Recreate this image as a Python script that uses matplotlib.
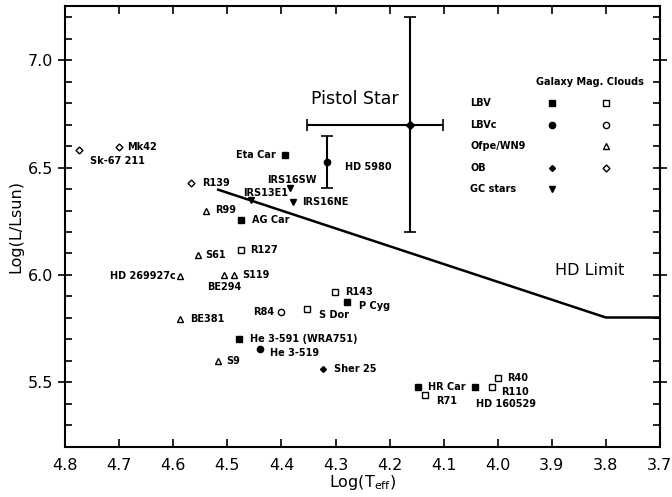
import numpy as np
import matplotlib
matplotlib.use('Agg')
import matplotlib.pyplot as plt
from matplotlib.ticker import MultipleLocator

plt.rcParams['font.family'] = ['DejaVu Sans']

# LBV, galaxy (filled square)
lbv_gal_names = ['Eta Car', 'AG Car', 'He 3-591 (WRA751)', 'P Cyg', 'HR Car', 'HD 160529']
lbv_gal_t = [4.393, 4.475, 4.479, 4.278, 4.147, 4.042]
lbv_gal_l = [6.557, 6.257, 5.70, 5.875, 5.478, 5.478]

# LBV, Magellanic Clouds (open square)
lbv_mc_names = ['R127', 'R143', 'S Dor', 'R71', 'R110', 'R40']
lbv_mc_t = [4.475, 4.301, 4.352, 4.135, 4.011, 4.000]
lbv_mc_l = [6.114, 5.919, 5.840, 5.440, 5.478, 5.520]

# LBVc, galaxy (filled circle)
lbvc_gal_names = ['He 3-519']
lbvc_gal_t = [4.44]
lbvc_gal_l = [5.657]

# LBVc, Magellanic Clouds (open circle)
lbvc_mc_names = ['R84']
lbvc_mc_t = [4.40]
lbvc_mc_l = [5.828]

# Ofpe/WN9, Magellanic Clouds (open triangle)
ofpe_names = ['R99', 'S61', 'HD 269927c', 'BE294', 'S119', 'BE381', 'S9']
ofpe_t = [4.539, 4.554, 4.587, 4.506, 4.487, 4.587, 4.518]
ofpe_l = [6.296, 6.093, 5.997, 6.000, 6.000, 5.796, 5.600]

# OB, galaxy (filled diamond)
ob_gal_names = ['Sher 25']
ob_gal_t = [4.323]
ob_gal_l = [5.56]

# OB, Magellanic Clouds (open diamond)
ob_mc_names = ['Sk-67 211', 'Mk42', 'R139']
ob_mc_t = [4.774, 4.700, 4.567]
ob_mc_l = [6.58, 6.595, 6.43]

# Galactic Center stars (filled down triangle)
gc_names = ['IRS16SW', 'IRS13E1', 'IRS16NE']
gc_t = [4.384, 4.457, 4.378]
gc_l = [6.405, 6.350, 6.340]

# HD 5980 with error bar
hd5980_t = 4.316
hd5980_l = 6.527
hd5980_lerr = 0.12

# Pistol Star with error bars
pistol_t = 4.162
pistol_l = 6.70
pistol_terr = [[0.06], [0.19]]
pistol_lerr = 0.50

# Humphreys-Davidson limit
hd_limit_t = [4.517, 3.80, 3.70]
hd_limit_l = [6.397, 5.802, 5.802]

# legend rows
legend_rows = ['LBV', 'LBVc', 'Ofpe/WN9', 'OB', 'GC stars']
legend_gal = [('s', 'k'), ('o', 'k'), None, ('D', 'k'), ('v', 'k')]
legend_mc = [('s', 'none'), ('o', 'none'), ('^', 'none'), ('D', 'none'), None]

# label offsets in points: (dx, dy, ha)
label_offsets = {
    'Sk-67 211': (8, -8, 'left'), 'Mk42': (6, 0, 'left'), 'R139': (8, 0, 'left'),
    'R99': (6, 1, 'left'), 'AG Car': (8, 0, 'left'), 'Eta Car': (-7, 0, 'right'),
    'IRS16SW': (1, 6, 'center'), 'IRS13E1': (11, 5, 'center'), 'IRS16NE': (6, 0, 'left'),
    'R127': (7, 0, 'left'), 'S61': (5, 0, 'left'), 'HD 269927c': (-3, 0, 'right'),
    'S119': (6, 0, 'left'), 'BE294': (0, -9, 'center'), 'BE381': (7, 0, 'left'),
    'R143': (7, 0, 'left'), 'P Cyg': (8, -3, 'left'), 'S Dor': (8, -4, 'left'),
    'R84': (-5, 0, 'right'), 'He 3-591 (WRA751)': (8, 0, 'left'), 'He 3-519': (7, -3, 'left'),
    'S9': (6, 0, 'left'), 'Sher 25': (8, 0, 'left'), 'HR Car': (7, 0, 'left'),
    'R71': (8, -4, 'left'), 'HD 160529': (22, -12, 'center'), 'R110': (7, -3.5, 'left'),
    'R40': (7, 0, 'left'),
}

fig = plt.figure(figsize=(6.72, 4.97), dpi=100)
ax = fig.add_axes([0.097, 0.101, 0.885, 0.886])

ms = 4.5
lab_fs = 7
groups = [
    (lbv_gal_names, lbv_gal_t, lbv_gal_l, 's', 'k', ms),
    (lbv_mc_names, lbv_mc_t, lbv_mc_l, 's', 'none', ms),
    (lbvc_gal_names, lbvc_gal_t, lbvc_gal_l, 'o', 'k', ms),
    (lbvc_mc_names, lbvc_mc_t, lbvc_mc_l, 'o', 'none', ms),
    (ofpe_names, ofpe_t, ofpe_l, '^', 'none', ms),
    (ob_gal_names, ob_gal_t, ob_gal_l, 'D', 'k', 3),
    (ob_mc_names, ob_mc_t, ob_mc_l, 'D', 'none', 3.5),
    (gc_names, gc_t, gc_l, 'v', 'k', ms),
]
for names, t, l, m, fc, size in groups:
    ax.plot(t, l, ls='none', marker=m, mfc=fc, mec='k', mew=1.0, ms=size)
    for n, xt, yl in zip(names, t, l):
        dx, dy, ha = label_offsets[n]
        ax.annotate(n, (xt, yl), xytext=(dx, dy), textcoords='offset points',
                    ha=ha, va='center', fontsize=lab_fs, fontweight='bold')

# HD 5980
ax.errorbar([hd5980_t], [hd5980_l], yerr=hd5980_lerr, fmt='o', color='k', ms=4.5,
            elinewidth=1.5, capsize=4, capthick=1.2)
ax.annotate('HD 5980', (hd5980_t, hd5980_l), xytext=(13, -4), textcoords='offset points',
            ha='left', va='center', fontsize=lab_fs, fontweight='bold')

# Pistol Star
ax.errorbar([pistol_t], [pistol_l], xerr=pistol_terr, yerr=pistol_lerr, fmt='D', color='k',
            ms=4, elinewidth=1.5, capsize=4, capthick=1.2)
ax.text(4.265, 6.82, 'Pistol Star', fontsize=12.5, ha='center', va='center')

# HD limit
ax.plot(hd_limit_t, hd_limit_l, color='k', lw=1.8)
ax.text(3.83, 6.02, 'HD Limit', fontsize=11.5, ha='center', va='center')

# legend drawn by hand
ax.text(3.83, 6.90, 'Galaxy Mag. Clouds', fontsize=lab_fs, fontweight='bold', ha='center', va='center')
for i, row in enumerate(legend_rows):
    yy = 6.80 - 0.10 * i
    ax.text(4.051, yy, row, fontsize=lab_fs, fontweight='bold', ha='left', va='center')
    if legend_gal[i] is not None:
        m, fc = legend_gal[i]
        ax.plot([3.899], [yy], marker=m, mfc=fc, mec='k', ms=3 if m == 'D' else ms, ls='none')
    if legend_mc[i] is not None:
        m, fc = legend_mc[i]
        ax.plot([3.799], [yy], marker=m, mfc=fc, mec='k', mew=1.0, ms=3.5 if m == 'D' else ms, ls='none')

ax.set_xlim(4.8, 3.7)
ax.set_ylim(5.2, 7.25)
ax.xaxis.set_major_locator(MultipleLocator(0.1))
ax.yaxis.set_major_locator(MultipleLocator(0.5))
ax.yaxis.set_minor_locator(MultipleLocator(0.1))
ax.xaxis.set_major_formatter(plt.FormatStrFormatter('%.1f'))
ax.yaxis.set_major_formatter(plt.FormatStrFormatter('%.1f'))
ax.tick_params(axis='x', which='major', direction='in', length=6, width=1.2, top=True, labelsize=11.5, pad=8)
ax.tick_params(axis='y', which='major', direction='inout', length=10, width=1.2, right=True, labelsize=11.5)
ax.tick_params(axis='y', which='minor', direction='in', length=5, width=1.2, right=True)
for s in ax.spines.values():
    s.set_linewidth(1.5)

ax.set_xlabel(r'Log(T$_{\rm eff}$)', fontsize=11.5, labelpad=0)
ax.set_ylabel('Log(L/Lsun)', fontsize=11.5, labelpad=3)

fig.savefig('out.png', dpi=100)
